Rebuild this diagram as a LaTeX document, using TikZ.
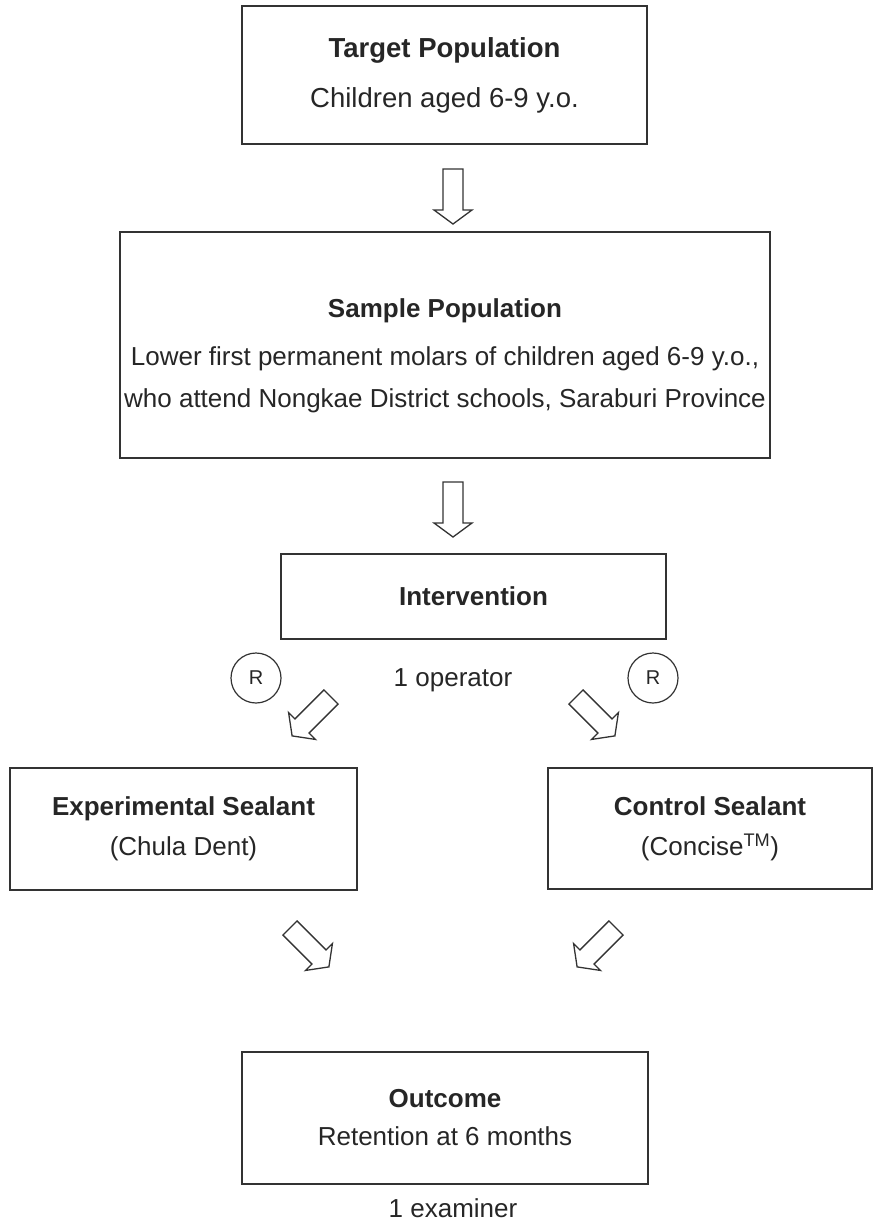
\documentclass[tikz,border=0pt]{standalone}
\usepackage{fontspec}
\setmainfont{Liberation Sans}
\usetikzlibrary{positioning}

\tikzset{
    box/.style={draw=black!80, line width=1.5pt, align=center, inner sep=0pt,
        text=black!85, font=\fontsize{26}{42}\selectfont},
    plain/.style={text=black!85, font=\fontsize{26}{42}\selectfont, inner sep=0pt},
    rmark/.style={draw=black!80, line width=1.2pt, circle, minimum size=50pt,
        inner sep=0pt, text=black!85, font=\fontsize{20}{24}\selectfont},
    hollow/.pic={\draw[black!80, line width=1.3pt, line join=miter]
        (-10,0) -- (-10,41) -- (-19,41) -- (0,55) -- (19,41) -- (10,41) -- (10,0) -- cycle;}
}

\begin{document}
\begin{tikzpicture}[x=1pt,y=-1pt]
    \useasboundingbox (0,0) rectangle (879,1225);

    % boxes
    \node[box, minimum width=405pt, minimum height=138pt, font=\fontsize{27.5}{42}\selectfont]
        (target) at (444.5,75)
        {\textbf{Target Population}\\[8pt]Children aged 6-9 y.o.};
    \node[box, minimum width=650pt, minimum height=226pt] (sample) at (445,345)
        {\rule{0pt}{40pt}\textbf{Sample Population}\\[6pt]Lower first permanent molars of children aged 6-9 y.o.,\\
        who attend Nongkae District schools, Saraburi Province};
    \node[box, minimum width=385pt, minimum height=85pt] (interv) at (473.5,596.5)
        {\textbf{Intervention}};
    \node[box, minimum width=347pt, minimum height=122pt] (expt) at (183.5,829)
        {\textbf{Experimental Sealant}\\[-2pt](Chula Dent)};
    \node[box, minimum width=324pt, minimum height=121pt] (ctrl) at (710,828.5)
        {\textbf{Control Sealant}\\[-2pt](Concise\textsuperscript{TM})};
    \node[box, minimum width=406pt, minimum height=132pt] (outcome) at (445,1118)
        {\textbf{Outcome}\\[-4pt]Retention at 6 months};

    % labels
    \node[plain] (operator) at (453,680) {1 operator};
    \node[plain] (examiner) at (453,1208) {1 examiner};
    \node[rmark] (rleft) at (256,678) {R};
    \node[rmark] (rright) at (653,678) {R};

    % block arrows
    \pic at (453,169) {hollow};
    \pic at (453,482) {hollow};
    \pic[rotate=-45] at (331,697) {hollow};
    \pic[rotate=45] at (576,697) {hollow};
    \pic[rotate=45] at (290,928) {hollow};
    \pic[rotate=-45] at (616,928) {hollow};
\end{tikzpicture}
\end{document}
